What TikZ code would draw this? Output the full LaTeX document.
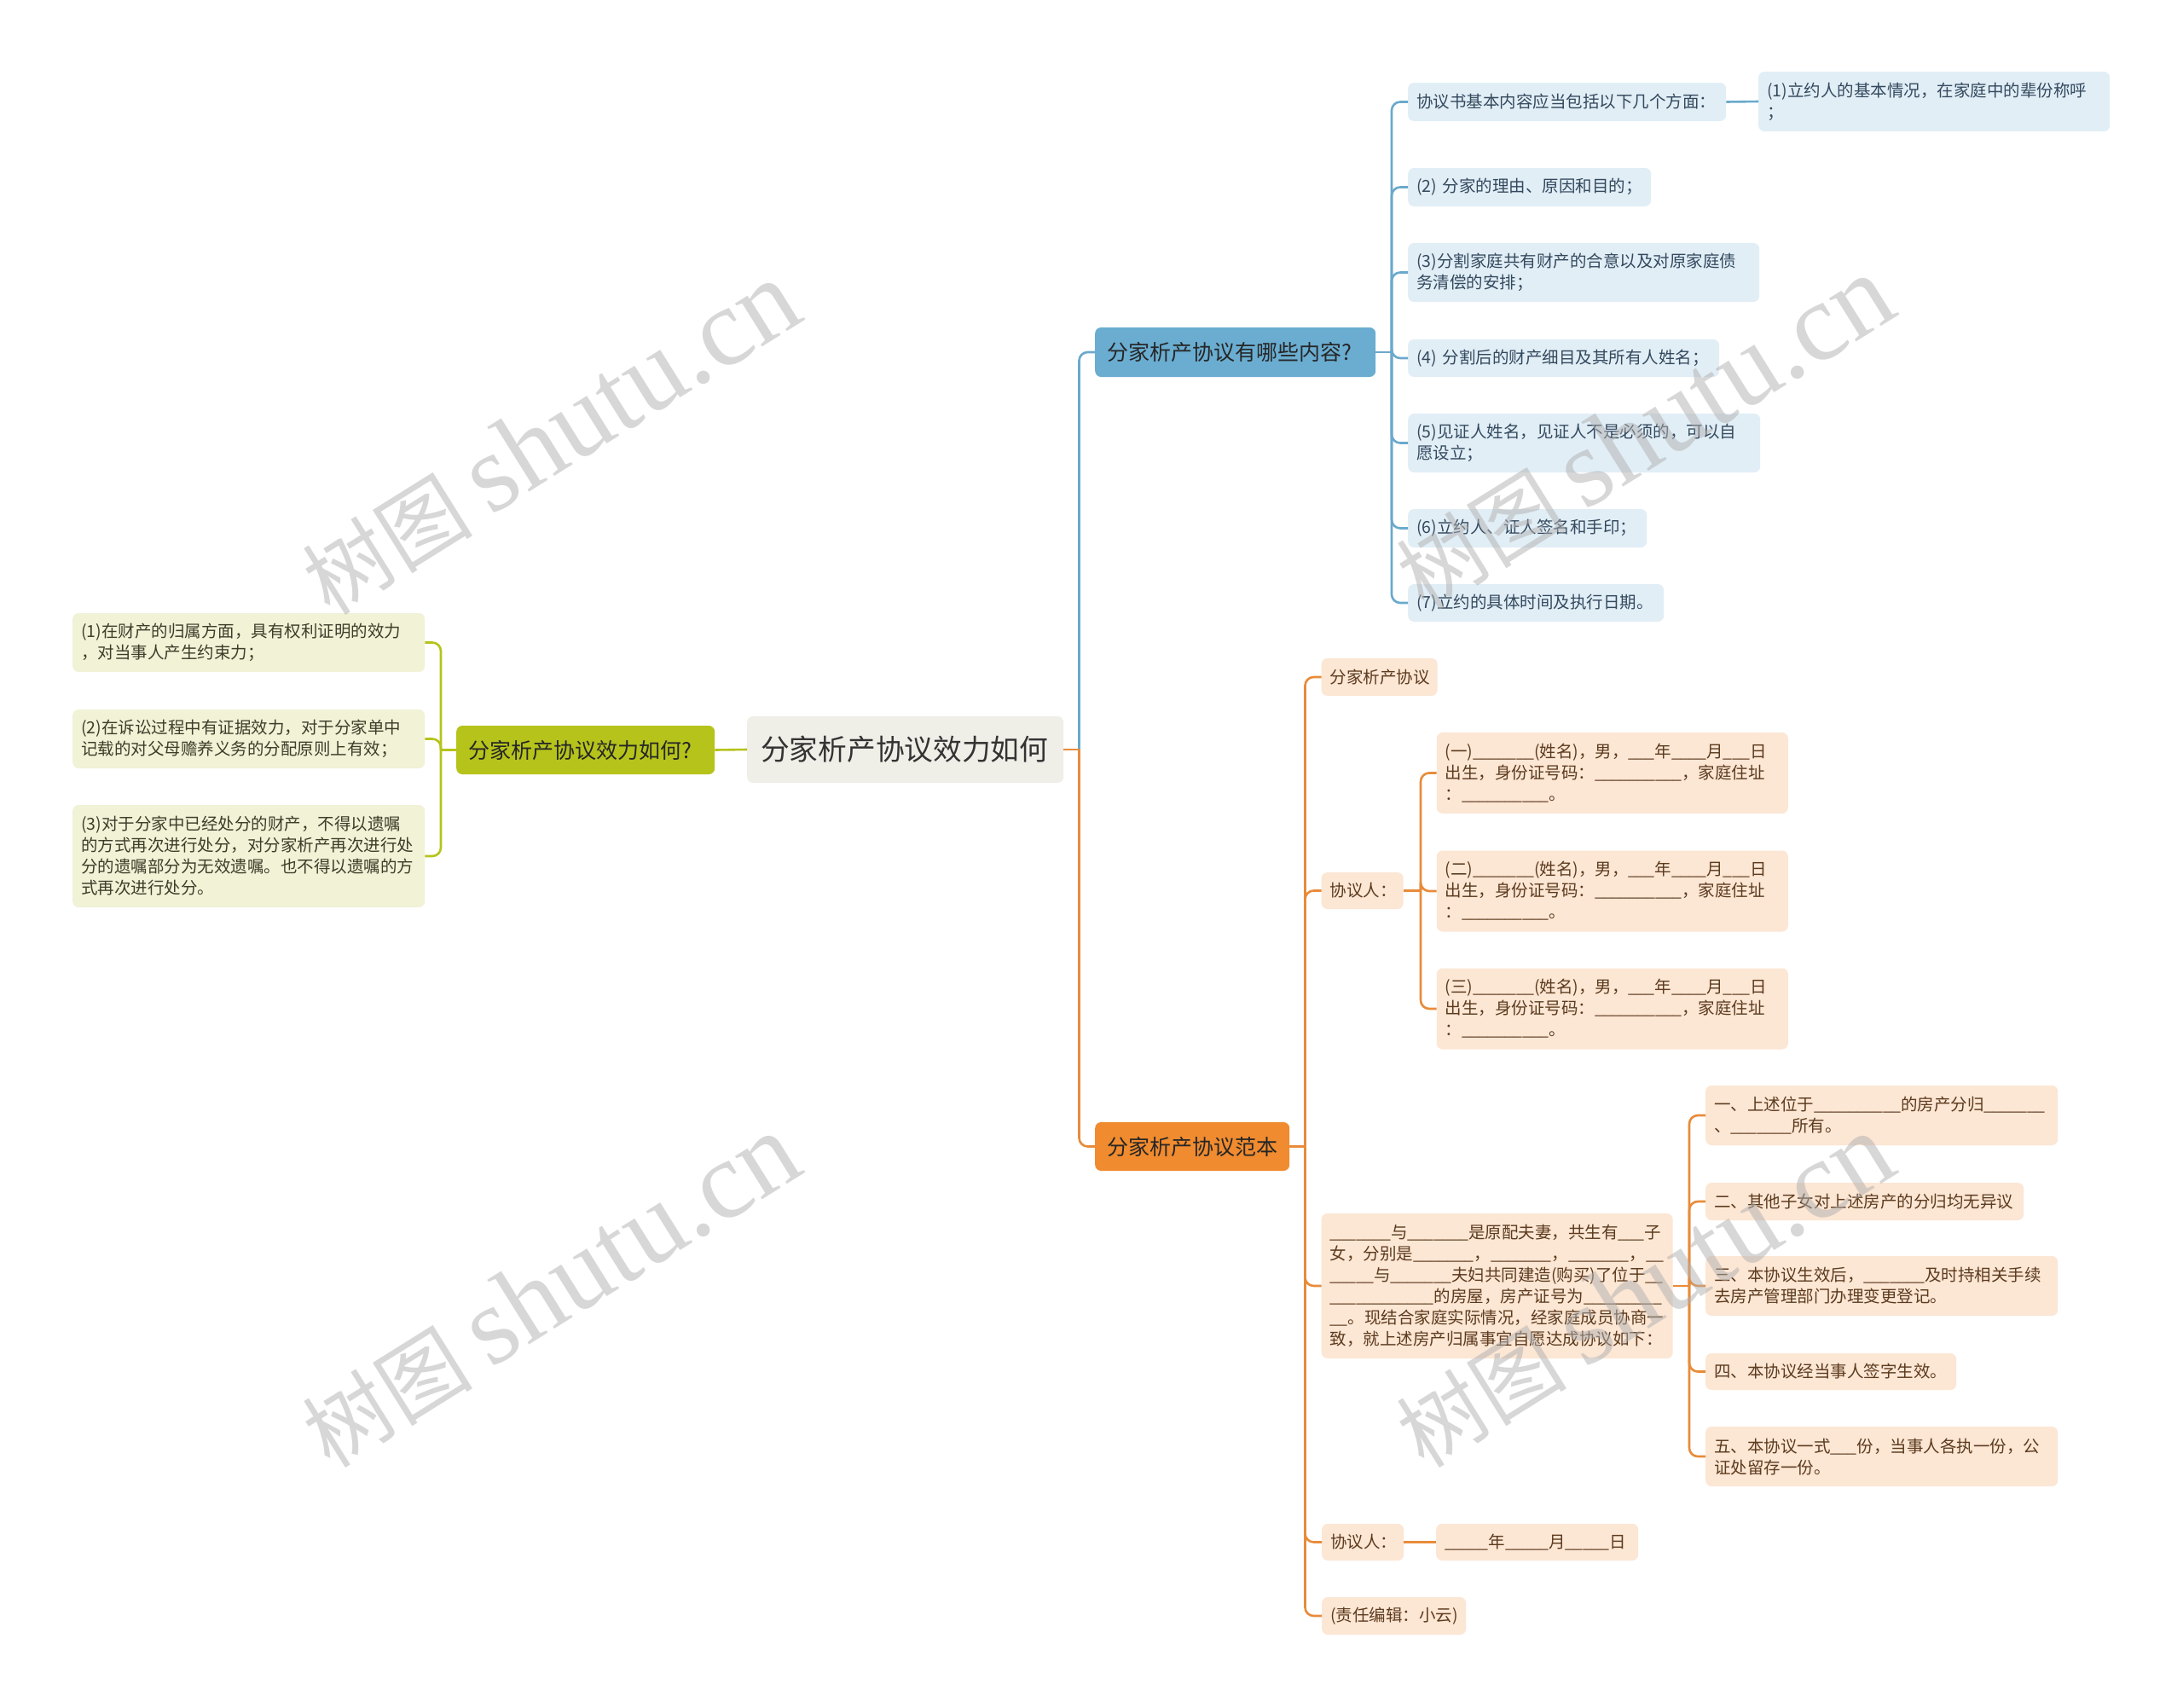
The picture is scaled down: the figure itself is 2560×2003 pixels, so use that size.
\documentclass[tikz,border=0pt]{standalone}
\usepackage{fontspec}
\setmainfont{Noto Sans CJK SC}
\newfontfamily\wmlatin{Liberation Serif}
\definecolor{cRootFill}{HTML}{EFEEE7}
\definecolor{cRootText}{HTML}{333333}
\definecolor{cBlue}{HTML}{6AADD1}
\definecolor{cBlueLine}{HTML}{6AA9CC}
\definecolor{cBlueFill}{HTML}{E1EEF6}
\definecolor{cBlueText}{HTML}{34495E}
\definecolor{cOrange}{HTML}{F08B2F}
\definecolor{cOrangeLine}{HTML}{E88B3A}
\definecolor{cOrangeFill}{HTML}{FCE6D4}
\definecolor{cOrangeText}{HTML}{5C3B1E}
\definecolor{cGreen}{HTML}{B5C31B}
\definecolor{cGreenFill}{HTML}{F1F2D6}
\definecolor{cGreenText}{HTML}{3D3D2A}
\definecolor{cBranchText}{HTML}{262626}
\definecolor{cWm}{HTML}{B0B0B0}
\newcount\usccount
\newcommand\usc[1]{\usccount=#1\relax\loop\ifnum\usccount>0 \textunderscore\kern-0.8pt\advance\usccount by -1\relax\repeat\kern0.8pt}
\tikzset{
  nodebase/.style={rounded corners=7pt, anchor=west, align=left, inner xsep=10pt, inner ysep=0pt},
  leaf/.style={nodebase, font=\fontsize{19.5}{25}\selectfont},
  bleaf/.style={leaf, fill=cBlueFill, text=cBlueText},
  oleaf/.style={leaf, fill=cOrangeFill, text=cOrangeText},
  gleaf/.style={leaf, fill=cGreenFill, text=cGreenText},
  branch/.style={nodebase, inner xsep=14pt, font=\fontsize{25}{30}\selectfont, text=cBranchText},
  rootbox/.style={nodebase, inner xsep=16pt, fill=cRootFill, text=cRootText, font=\fontsize{33.7}{40}\selectfont},
  bconn/.style={draw=cBlueLine, line width=2.6pt},
  oconn/.style={draw=cOrangeLine, line width=2.6pt},
  gconn/.style={draw=cGreen, line width=2.6pt},
  elbow/.style={rounded corners=10pt},
  wmark/.style={rotate=32, text=cWm, opacity=0.5, font=\fontsize{100}{120}\selectfont}
}
\newcommand\wmtext{树图 {\wmlatin\fontsize{130}{140}\selectfont shutu.cn}}
\begin{document}
\begin{tikzpicture}[x=1pt,y=-1pt]
\useasboundingbox (0,0) rectangle (2560,2003);
\fill[white] (0,0) rectangle (2560,2003);
% root
\node[rootbox, text width=339pt, minimum height=78pt] (root) at (876,879) {分家析产协议效力如何};
% branches
\node[branch, fill=cGreen, text width=275pt, minimum height=57pt] (G) at (535,879.5) {分家析产协议效力如何?};
\node[branch, fill=cBlue, text width=301pt, minimum height=58pt] (B) at (1284,413) {分家析产协议有哪些内容?};
\node[branch, fill=cOrange, text width=200pt, minimum height=57pt] (O) at (1284,1344.5) {分家析产协议范本};
% green leaves
\node[gleaf, text width=393pt, minimum height=69pt] (g1) at (85,753.5) {(1)在财产的归属方面，具有权利证明的效力\\，对当事人产生约束力；};
\node[gleaf, text width=393pt, minimum height=69pt] (g2) at (85,866.5) {(2)在诉讼过程中有证据效力，对于分家单中\\记载的对父母赡养义务的分配原则上有效；};
\node[gleaf, text width=393pt, minimum height=120pt] (g3) at (85,1004) {(3)对于分家中已经处分的财产，不得以遗嘱\\的方式再次进行处分，对分家析产再次进行处\\分的遗嘱部分为无效遗嘱。也不得以遗嘱的方\\式再次进行处分。};
% blue leaves
\node[bleaf, text width=353pt, minimum height=45pt] (b1) at (1651,119.5) {协议书基本内容应当包括以下几个方面：};
\node[bleaf, text width=392pt, minimum height=70pt] (b1a) at (2062,119) {(1)立约人的基本情况，在家庭中的辈份称呼\\；};
\node[bleaf, text width=265pt, minimum height=45pt] (b2) at (1651,219.5) {(2) 分家的理由、原因和目的；};
\node[bleaf, text width=392pt, minimum height=69pt] (b3) at (1651,319.5) {(3)分割家庭共有财产的合意以及对原家庭债\\务清偿的安排；};
\node[bleaf, text width=345pt, minimum height=44pt] (b4) at (1651,420) {(4) 分割后的财产细目及其所有人姓名；};
\node[bleaf, text width=393pt, minimum height=69pt] (b5) at (1651,519.5) {(5)见证人姓名，见证人不是必须的，可以自\\愿设立；};
\node[bleaf, text width=260pt, minimum height=45pt] (b6) at (1651,619.5) {(6)立约人、证人签名和手印；};
\node[bleaf, text width=280pt, minimum height=44pt] (b7) at (1651,707) {(7)立约的具体时间及执行日期。};
% orange leaves
\node[oleaf, text width=116pt, minimum height=44pt] (o1) at (1549.5,794) {分家析产协议};
\node[oleaf, text width=76pt, minimum height=43pt] (o2) at (1549.5,1044.5) {协议人：};
\node[oleaf, text width=392pt, minimum height=95pt] (o2a) at (1684.6,906.5) {(一)\usc{7}(姓名)，男，\usc{3}年\usc{4}月\usc{3}日\\出生，身份证号码：\usc{10}，家庭住址\\：\usc{10}。};
\node[oleaf, text width=392pt, minimum height=95pt] (o2b) at (1684.6,1045) {(二)\usc{7}(姓名)，男，\usc{3}年\usc{4}月\usc{3}日\\出生，身份证号码：\usc{10}，家庭住址\\：\usc{10}。};
\node[oleaf, text width=392pt, minimum height=95pt] (o2c) at (1684.6,1183) {(三)\usc{7}(姓名)，男，\usc{3}年\usc{4}月\usc{3}日\\出生，身份证号码：\usc{10}，家庭住址\\：\usc{10}。};
\node[oleaf, text width=392pt, minimum height=170pt] (o3) at (1549.5,1508) {\usc{7}与\usc{7}是原配夫妻，共生有\usc{3}子\\女，分别是\usc{7}，\usc{7}，\usc{7}，\usc{2}\\\usc{5}与\usc{7}夫妇共同建造(购买)了位于\usc{2}\\\usc{12}的房屋，房产证号为\usc{9}\\\usc{2}。现结合家庭实际情况，经家庭成员协商一\\致，就上述房产归属事宜自愿达成协议如下：};
\node[oleaf, text width=393pt, minimum height=70pt] (o3a) at (2000,1308) {一、上述位于\usc{10}的房产分归\usc{7}\\、\usc{7}所有。};
\node[oleaf, text width=353pt, minimum height=44pt] (o3b) at (2000,1409) {二、其他子女对上述房产的分归均无异议};
\node[oleaf, text width=393pt, minimum height=70pt] (o3c) at (2000,1508) {三、本协议生效后，\usc{7}及时持相关手续\\去房产管理部门办理变更登记。};
\node[oleaf, text width=274pt, minimum height=43pt] (o3d) at (2000,1608.5) {四、本协议经当事人签字生效。};
\node[oleaf, text width=393pt, minimum height=70pt] (o3e) at (2000,1708) {五、本协议一式\usc{3}份，当事人各执一份，公\\证处留存一份。};
\node[oleaf, text width=76pt, minimum height=43pt] (o4) at (1550,1808.5) {协议人：};
\node[oleaf, text width=217pt, minimum height=43pt] (o4a) at (1684,1808.5) {\usc{5}年\usc{5}月\usc{5}日};
\node[oleaf, text width=149pt, minimum height=44pt] (o5) at (1550,1895) {(责任编辑：小云)};
% junction coordinates
\coordinate (jR) at (1265.5,879);
\coordinate (jG) at (517,879.5);
\coordinate (jB) at (1632,413);
\coordinate (jO) at (1530.5,1344.5);
\coordinate (jO2) at (1666,1044.5);
\coordinate (jO3) at (1981,1508);
% root connectors
\draw[bconn] (root.east) -- (jR);
\draw[bconn, elbow] (jR) |- (B.west);
\draw[oconn] (root.east) -- (jR);
\draw[oconn, elbow] (jR) |- (O.west);
\draw[gconn] (root.west) -- (G.east);
% green
\draw[gconn] (G.west) -- (jG);
\foreach \n in {g1,g2,g3} \draw[gconn, elbow] (jG) |- (\n.east);
% blue
\draw[bconn] (B.east) -- (jB);
\foreach \n in {b1,b2,b3,b4,b5,b6,b7} \draw[bconn, elbow] (jB) |- (\n.west);
\draw[bconn] (b1.east) -- (b1a.west);
% orange
\draw[oconn] (O.east) -- (jO);
\foreach \n in {o1,o2,o3,o4,o5} \draw[oconn, elbow] (jO) |- (\n.west);
\draw[oconn] (o2.east) -- (jO2);
\foreach \n in {o2a,o2b,o2c} \draw[oconn, elbow] (jO2) |- (\n.west);
\draw[oconn] (o3.east) -- (jO3);
\foreach \n in {o3a,o3b,o3c,o3d,o3e} \draw[oconn, elbow] (jO3) |- (\n.west);
\draw[oconn] (o4.east) -- (o4a.west);
% watermarks
\node[wmark] (wm1) at (645,514) {\wmtext};
\node[wmark] (wm2) at (1928,508) {\wmtext};
\node[wmark] (wm3) at (645,1514) {\wmtext};
\node[wmark] (wm4) at (1928,1514) {\wmtext};
\end{tikzpicture}
\end{document}
